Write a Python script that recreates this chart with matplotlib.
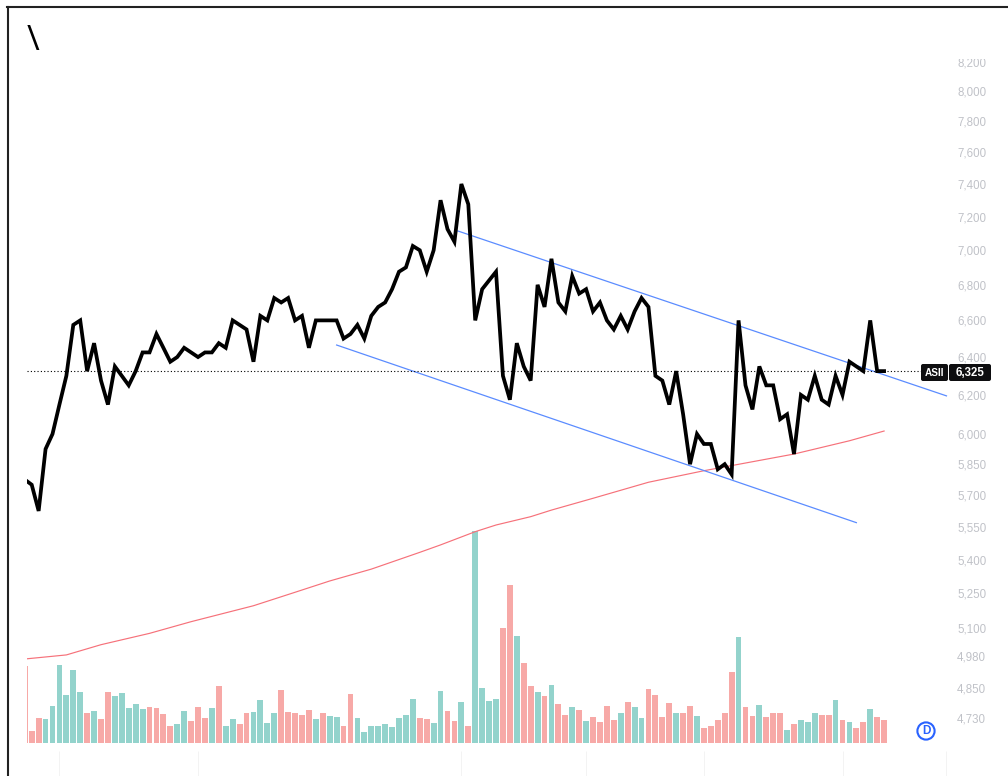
"""
ASII price chart with channel, long moving average and volume
"""
import matplotlib
matplotlib.use("Agg")
import matplotlib.pyplot as plt
import numpy as np
from matplotlib.lines import Line2D
from matplotlib.patches import Circle, FancyBboxPatch
from matplotlib.ticker import NullLocator
from matplotlib.transforms import Bbox, IdentityTransform

# close prices, first one is the bar cut off by the left edge
close = [5775, 5750, 5625, 5925, 6000, 6150, 6300, 6575, 6600, 6325, 6475, 6275, 6150,
         6350, 6300, 6250, 6325, 6425, 6425, 6525, 6450, 6375, 6400, 6450, 6425, 6400,
         6425, 6425, 6475, 6450, 6600, 6575, 6550, 6375, 6625, 6600, 6725, 6700, 6725,
         6600, 6625, 6450, 6600, 6600, 6600, 6600, 6500, 6525, 6575, 6500, 6625, 6675,
         6700, 6775, 6875, 6900, 7025, 7000, 6875, 7000, 7300, 7125, 7050, 7400, 7275,
         6600, 6775, 6825, 6875, 6300, 6175, 6475, 6350, 6275, 6800, 6675, 6950, 6700,
         6650, 6850, 6750, 6775, 6650, 6700, 6600, 6550, 6625, 6550, 6650, 6725, 6675,
         6300, 6275, 6150, 6325, 6100, 5850, 6000, 5950, 5950, 5825, 5850, 5800, 6600,
         6250, 6125, 6350, 6250, 6250, 6075, 6100, 5900, 6200, 6175, 6300, 6175, 6150,
         6300, 6200, 6375, 6350, 6325, 6600, 6325, 6325]
bar_index = np.arange(-1, len(close) - 1)

# volume, in screen-height units
volume = [77, 12, 25.3, 23.7, 37, 78.3, 47.7, 73.3, 51.3, 30.3, 32.3, 23.7, 51.3, 46.7,
          49.7, 35.3, 39, 34.3, 36.3, 35.3, 29.3, 17, 18.7, 32.3, 21.7, 36.3, 24.7, 35.3,
          57.3, 17, 23.7, 18.7, 30.3, 31.3, 42.7, 19.7, 30.3, 53.3, 31.3, 30.3, 27.7, 33.3,
          23.7, 30.3, 27.3, 26.5, 17, 48.7, 24.7, 11.3, 17, 17, 18.7, 16, 24.7, 27.7, 43.7,
          24.7, 23.7, 19.7, 52.3, 32.3, 21.7, 41, 17, 211.7, 55.3, 42, 43.7, 115, 158.3,
          107.3, 80.3, 57.3, 50.7, 46.7, 58.3, 39, 27.7, 36, 33.3, 21.7, 25.7, 20.7, 37,
          22.7, 30.3, 41, 36, 24.7, 54.3, 47.7, 25.7, 40, 30.3, 30.3, 37, 27.3, 15, 16.7,
          22.7, 30.3, 70.7, 106.3, 36, 26.7, 38, 25.7, 30.3, 30.3, 13, 18.7, 22.7, 20.7,
          30.3, 28.3, 28.3, 42.7, 22.7, 20.7, 15, 20.7, 34.3, 25.7, 22.7]
# t = up bar, d = down bar
direction = ("d" "ddtttttt" "dtdd" "ttttt" "dddd" "tt" "ddd" "td" "ttdd" "tttt" "ddddd"
             "td" "tt" "dd" "ttttttttt" "dd" "tt" "dd" "td" "tttt" "dd" "t" "dd" "tdt"
             "dd" "tdt" "dddd" "tdtt" "dddd" "t" "dd" "t" "ddddd" "t" "dd" "t" "ddd" "t"
             "d" "ttt" "dd" "t" "dt" "dd" "t" "dd")

# long moving average
ma_index = [-1, 5, 10, 17, 23, 32, 38, 43, 49, 56, 59, 64, 67, 72, 75, 81, 89, 97, 110, 118, 123]
ma_value = [4968, 4985, 5028, 5076, 5126, 5195, 5254, 5304, 5357, 5433, 5467, 5528, 5559,
            5598, 5629, 5685, 5762, 5818, 5900, 5966, 6015]

# channel lines
upper_index = [61.5, 132.0]
upper_value = [7114, 6195]
lower_index = [44.0, 119.0]
lower_value = [6465, 5570]

last_price = 6325
symbol = "ASII"
price_ticks = [4730, 4850, 4980, 5100, 5250, 5400, 5550, 5700, 5850, 6000, 6200, 6400,
               6600, 6800, 7000, 7200, 7400, 7600, 7800, 8000, 8200]
separator_bars = [4, 24, 62, 80, 97, 117, 132]

W, H = 1008, 776
TEAL = "#93d3cc"
PINK = "#f7a9a7"
GREY = "#c0c2c8"
BLUE = "#5b8cff"
RED = "#f6717a"

fig = plt.figure(figsize=(W / 100, H / 100), dpi=100)
rect = [27 / W, 1 - 751 / H, (952 - 27) / W, (751 - 58) / H]

# volume sits behind the price pane
ax_vol = fig.add_axes(rect)
ax = fig.add_axes(rect, sharex=ax_vol)
ax.set_zorder(2)
ax.patch.set_visible(False)

bar_colors = [TEAL if d == "t" else PINK for d in direction]
ax_vol.bar(bar_index, volume, width=0.84, color=bar_colors)
ax_vol.set_ylim(-8, 685)
ax_vol.axis("off")

ax.plot(ma_index, ma_value, color=RED, lw=0.85)
ax.plot(upper_index, upper_value, color=BLUE, lw=0.9)
ax.plot(lower_index, lower_value, color=BLUE, lw=0.9)
ax.plot(bar_index, close, color="black", lw=2.7, solid_joinstyle="miter")
ax.hlines(last_price, -0.68, 128.4, color="black", lw=0.8, linestyles=(0, (1, 2)))

ax.set_yscale("log")
ax.set_xlim(-0.68, 132.8)
ax.set_ylim(4599, 8225)
ax.yaxis.tick_right()
ax.yaxis.set_minor_locator(NullLocator())
ax.set_yticks(price_ticks)
ax.set_yticklabels([f"{t:,}" for t in price_ticks], color=GREY, fontsize=8.3,
                   family="Liberation Sans")
ax.tick_params(axis="y", length=0, pad=3.6)
ax.set_xticks(separator_bars)
ax.set_xticklabels([])
ax.tick_params(axis="x", length=18.7, width=0.7, color="#f3f3f3", direction="out")
for side in ax.spines:
    ax.spines[side].set_visible(False)
# the top label is cut by the pane like in the app
for label in ax.get_yticklabels():
    label.set_clip_box(Bbox([[0, 0], [W, H - 59]]))
    label.set_clip_on(True)

# frame of the screenshot
fig.add_artist(Line2D([7.5 / W, 7.5 / W], [0, 1 - 7 / H], color="#222222", lw=1.5,
                      transform=fig.transFigure))
fig.add_artist(Line2D([7 / W, 1], [1 - 7 / H, 1 - 7 / H], color="#222222", lw=1.5,
                      transform=fig.transFigure))
fig.text(33 / W, 1 - 41.5 / H, "\\", fontsize=25, color="black", ha="center", va="center",
         family="Open Sans")

# last price tags
for x0, x1 in [(921, 948), (949, 991)]:
    fig.add_artist(FancyBboxPatch((x0 + 1, H - 380), x1 - x0 - 2, 15,
                                  boxstyle="round,pad=1,rounding_size=2", fc="#0e0e10", ec="none",
                                  transform=IdentityTransform(), zorder=5))
fig.text(934.5 / W, 1 - 373 / H, symbol, color="white", fontsize=7.2, fontweight="bold", ha="center",
         va="center", family="Liberation Sans", zorder=6)
fig.text(970 / W, 1 - 373 / H, f"{last_price:,}", color="white", fontsize=8.3, fontweight="bold",
         ha="center", va="center", family="Liberation Sans", zorder=6)

# logo
fig.add_artist(Circle((926, H - 731), 8.6, fc="white", ec="#2962ff", lw=1.5,
                      transform=IdentityTransform(), zorder=5))
fig.text(926 / W, 1 - 731 / H, "D", color="#2962ff", fontsize=8.5, fontweight="bold", ha="center",
         va="center", family="Liberation Sans", zorder=6)

fig.savefig("out.png", dpi=100)
